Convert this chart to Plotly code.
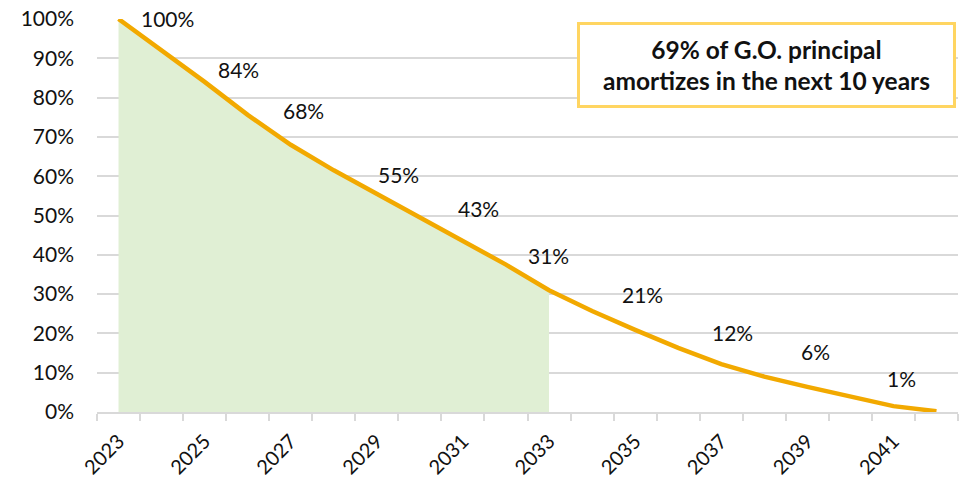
import plotly.graph_objects as go

years = list(range(2023, 2043))
remaining = [100, 92, 84, 75.6, 68, 61.5, 55.5, 49.4, 43.4, 37.5,
             31, 25.7, 20.9, 16.3, 12.2, 9.0, 6.4, 4.0, 1.5, 0.2]
shade_end_year = 2033
label_years = [2023, 2025, 2027, 2029, 2031, 2033, 2035, 2037, 2039, 2041]
label_texts = ["100%", "84%", "68%", "55%", "43%", "31%", "21%", "12%", "6%", "1%"]
tick_years = [2023, 2025, 2027, 2029, 2031, 2033, 2035, 2037, 2039, 2041]
tick_texts = [str(y) for y in tick_years]
callout = "69% of G.O. principal<br>amortizes in the next 10 years"

# pixel offsets of the data labels (styling only)
label_dx = [49, 34, 13, 22, 16, -1, 7, 11, 8, 8]
label_dy = [1, 12, 34, 19, 33, 35, 35, 32, 35, 28]

FONT = "Lato"
TXT = "#111111"
GRID = "#D9D9D9"

fy = [v / 100 for v in remaining]
shade_x = [y for y in years if y <= shade_end_year]
shade_y = [fy[i] for i, y in enumerate(years) if y <= shade_end_year]

fig = go.Figure()
fig.add_trace(go.Scatter(x=shade_x, y=shade_y, mode="none", fill="tozeroy",
                         fillcolor="#E0EFD4", hoverinfo="skip", showlegend=False))
fig.add_trace(go.Scatter(x=years, y=fy, mode="lines",
                         line=dict(color="#F2A900", width=4.5),
                         showlegend=False))

for yr, txt, dx, dy in zip(label_years, label_texts, label_dx, label_dy):
    fig.add_annotation(x=yr, y=fy[years.index(yr)], text=txt, showarrow=False,
                       xshift=dx, yshift=dy, xanchor="center", yanchor="middle",
                       font=dict(family=FONT, size=21, color=TXT))

fig.add_annotation(xref="paper", yref="paper", x=0.7777, y=0.8818,
                   xanchor="center", yanchor="middle", text="<b>" + callout + "</b>",
                   showarrow=False, align="center",
                   font=dict(family=FONT, size=24.5, color=TXT),
                   bgcolor="white", bordercolor="#FFD561", borderwidth=3,
                   borderpad=8, width=357, height=64)

fig.update_layout(
    width=973, height=477,
    margin=dict(l=97, r=15, t=19, b=65),
    paper_bgcolor="white", plot_bgcolor="white",
    font=dict(family=FONT, size=21, color=TXT),
    xaxis=dict(range=[2022.5, 2042.5], tickmode="array", tickvals=tick_years,
               ticktext=tick_texts, tickangle=-45, ticks="", showgrid=False,
               zeroline=False, showline=True, linecolor=GRID, linewidth=1.5,
               automargin=False, ticklabelstandoff=8,
               tickfont=dict(family=FONT, size=20, color=TXT),
               minor=dict(tick0=2022.5, dtick=1, ticks="outside", ticklen=7,
                          tickcolor=GRID, tickwidth=1.5, showgrid=False)),
    yaxis=dict(range=[0, 1], dtick=0.1, tickformat=".0%", showgrid=True,
               gridcolor=GRID, gridwidth=1.5, zeroline=False, ticks="",
               ticklabelstandoff=22, automargin=False,
               tickfont=dict(family=FONT, size=21, color=TXT)),
)

fig.write_html("out.html", config={"displayModeBar": False},
               post_script="document.body.style.margin='0';document.body.style.overflow='hidden';")
